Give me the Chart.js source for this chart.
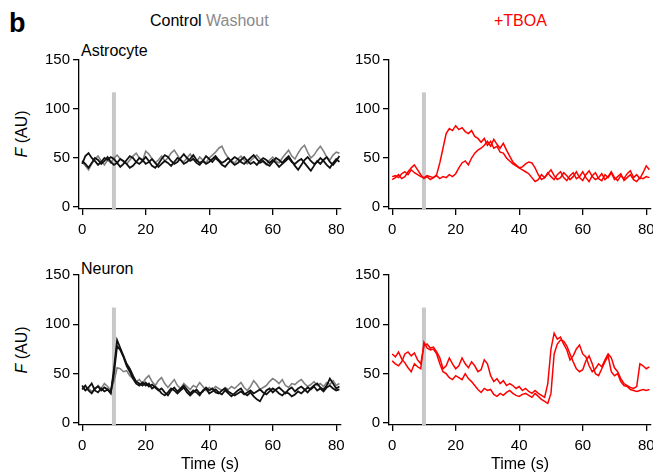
<!DOCTYPE html>
<html>
<head>
<meta charset="utf-8">
<script src="https://cdn.jsdelivr.net/npm/chart.js@4"></script>
<style>
  body { margin: 0; background: #fff; width: 653px; height: 474px; overflow: hidden; position: relative;
         font-family: "Liberation Sans", Arial, sans-serif; }
  canvas { position: absolute; }
  .lbl { position: absolute; font-size: 16px; white-space: nowrap; line-height: 1; }
  .ytitle { position: absolute; font-size: 16px; white-space: nowrap; transform: translate(-50%, -50%) rotate(-90deg); }
</style>
</head>
<body>
<div class="lbl" style="left:9px; top:10px; font-size:27px; font-weight:bold;">b</div>
<div class="lbl" style="left:150px; top:13px;"><span style="color:#000">Control</span> <span style="color:#8a8a8a">Washout</span></div>
<div class="lbl" style="left:494px; top:13px; color:#ff0000;">+TBOA</div>
<div class="lbl" style="left:81px; top:43px;">Astrocyte</div>
<div class="lbl" style="left:81px; top:261px;">Neuron</div>
<div class="ytitle" style="left:22px; top:134px;"><i>F</i> (AU)</div>
<div class="ytitle" style="left:22px; top:350px;"><i>F</i> (AU)</div>

<canvas id="astroCtrl" width="360" height="200" style="left:0px; top:45px;"></canvas>
<canvas id="astroTboa" width="360" height="200" style="left:310px; top:45px;"></canvas>
<canvas id="neuronCtrl" width="360" height="214" style="left:0px; top:260px;"></canvas>
<canvas id="neuronTboa" width="360" height="214" style="left:310px; top:260px;"></canvas>

<script>
// time axis (s), one sample per second
const times = Array.from({ length: 82 }, (_, i) => i);
const xTicks = [0, 20, 40, 60, 80];
const yTicks = [0, 50, 100, 150];
const stimTime = 10;
const stimTop = 117;

// Astrocyte, control (black) and washout (grey)
const astroControl1 = [44,52,55,50,47,43,46,50,48,51,49,45,41,44,48,52,50,46,44,47,51,47,42,40,44,49,53,51,47,44,46,50,54,50,47,49,45,43,47,52,49,46,50,47,43,41,45,48,51,49,46,44,47,50,53,49,45,47,44,42,46,50,48,45,49,52,47,42,38,43,48,51,47,44,46,50,47,43,40,45,49,46];
const astroControl2 = [47,44,40,45,50,48,44,47,51,46,43,45,49,47,44,40,42,46,50,48,44,46,49,45,41,44,47,45,42,46,50,48,44,46,49,53,48,45,47,44,46,49,52,48,45,47,50,46,43,45,48,51,47,44,46,43,47,50,48,45,48,45,41,44,47,50,46,44,47,49,45,41,37,42,47,44,48,51,46,43,47,52];
const astroWashout = [46,42,38,44,49,52,47,43,48,45,50,53,49,46,44,48,52,55,50,47,57,54,49,45,48,52,47,50,55,58,53,48,46,50,54,49,46,51,48,45,50,53,56,60,62,55,50,47,45,49,52,48,44,47,50,53,49,46,43,48,51,47,45,50,54,58,52,49,55,60,63,56,50,53,58,62,57,51,48,53,56,55];

// Astrocyte, +TBOA
const astroTboa1 = [31,32,30,34,36,33,38,35,33,31,30,32,31,30,33,45,60,75,80,78,83,79,81,77,75,78,72,70,66,70,63,67,60,62,56,55,50,47,44,42,40,38,36,34,30,26,28,33,30,35,31,28,33,36,30,27,32,35,29,31,36,30,26,32,35,29,27,33,30,35,28,31,34,27,30,33,28,26,30,29,31,30];
const astroTboa2 = [28,30,33,29,31,36,40,43,38,33,29,31,28,30,32,29,31,30,33,31,34,40,45,47,43,50,55,58,60,63,67,62,69,64,60,65,58,52,46,43,40,41,44,46,45,40,33,28,30,34,38,32,28,30,35,32,28,31,36,30,27,33,37,31,28,30,34,28,31,36,30,27,32,29,34,37,30,33,29,35,42,38];

// Neuron, control (black) and washout (grey)
const neuronControl1 = [34,38,33,30,35,37,33,36,34,30,55,84,76,68,60,55,48,42,40,38,41,37,39,36,33,35,31,28,33,36,32,35,38,34,30,33,31,28,33,35,30,32,34,31,29,33,30,27,30,33,35,30,28,31,27,24,22,28,33,35,31,34,36,33,30,34,36,32,35,37,34,31,35,38,40,36,34,38,45,40,35,37];
const neuronControl2 = [38,33,36,40,33,31,35,32,34,31,50,78,74,67,58,52,45,40,38,41,38,40,35,37,34,30,28,31,35,33,30,33,36,31,28,31,34,30,32,36,33,35,31,30,33,35,32,30,28,30,32,29,31,33,30,32,34,31,29,32,35,33,30,28,31,30,27,29,32,30,33,36,34,37,33,35,32,36,38,35,33,34];
const neuronWashout = [36,33,35,32,34,38,35,40,37,33,42,56,55,52,53,48,45,42,44,40,45,48,42,38,43,46,40,36,40,44,38,35,40,37,34,38,36,41,37,33,36,34,37,35,33,36,34,37,35,38,41,36,33,37,43,39,34,36,38,42,45,43,40,44,38,36,40,39,42,44,40,37,39,42,38,40,37,41,39,43,38,40];

// Neuron, +TBOA
const neuronTboa1 = [63,60,58,62,70,72,68,71,64,60,78,80,76,77,72,66,55,58,66,60,55,58,66,60,56,62,58,52,54,64,60,48,42,45,40,43,38,40,38,35,37,33,35,32,30,33,30,28,26,40,75,91,85,87,80,74,64,68,75,79,70,67,58,52,55,60,57,64,70,66,56,52,45,40,38,36,35,37,60,58,55,57];
const neuronTboa2 = [70,67,72,65,61,56,52,60,57,55,82,76,74,75,70,60,52,50,46,44,48,46,44,50,45,42,38,34,31,35,33,34,29,27,30,28,31,33,30,28,27,29,30,28,26,30,27,24,22,20,30,70,80,84,83,78,70,62,55,52,54,63,68,60,50,48,55,62,68,52,48,50,42,38,37,34,33,32,33,34,33,34];

Chart.defaults.font.family = "'Liberation Sans', Arial, sans-serif";
Chart.defaults.font.size = 15;
Chart.defaults.color = '#000';

function pts(arr) {
    return times.map((t, i) => ({ x: t, y: arr[i] }));
}

function trace(arr, color, width) {
    return { data: pts(arr), borderColor: color, borderWidth: width, pointRadius: 0, tension: 0, fill: false };
}

function stimBar() {
    return {
        data: [{ x: stimTime, y: -2 }, { x: stimTime, y: stimTop }],
        borderColor: '#c8c8c8', borderWidth: 4, pointRadius: 0, borderCapStyle: 'butt'
    };
}

function makePanel(id, datasets, bottomAxis, showTitle) {
    const ctx = document.getElementById(id).getContext('2d');
    return new Chart(ctx, {
        type: 'line',
        data: { datasets: datasets.concat([stimBar()]) },
        options: {
            responsive: false,
            animation: false,
            events: [],
            layout: { padding: { top: 15, right: 19, bottom: 0, left: 0 } },
            plugins: { legend: { display: false }, tooltip: { enabled: false } },
            scales: {
                x: {
                    type: 'linear', min: -1, max: 81.5,
                    afterBuildTicks: s => { s.ticks = xTicks.map(v => ({ value: v })); },
                    afterFit: s => { s.height = bottomAxis; },
                    border: { color: '#000', width: 1.3 },
                    grid: { drawOnChartArea: false, tickLength: 6, color: '#000', lineWidth: 1.3 },
                    ticks: { padding: 6, maxRotation: 0, autoSkip: false },
                    title: { display: showTitle, text: 'Time (s)', font: { size: 16 }, padding: { top: 0, bottom: 0 } }
                },
                y: {
                    min: -2, max: 150,
                    afterBuildTicks: s => { s.ticks = yTicks.map(v => ({ value: v })); },
                    afterFit: s => { s.width = 79; },
                    border: { color: '#000', width: 1.3 },
                    grid: { drawOnChartArea: false, tickLength: 6, color: '#000', lineWidth: 1.3 },
                    ticks: { padding: 3 }
                }
            }
        }
    });
}

makePanel('astroCtrl', [
    trace(astroControl1, '#111', 1.8),
    trace(astroControl2, '#111', 1.8),
    trace(astroWashout, '#808080', 1.6)
], 36, false);

makePanel('astroTboa', [
    trace(astroTboa1, '#ff0000', 1.5),
    trace(astroTboa2, '#ff0000', 1.5)
], 36, false);

makePanel('neuronCtrl', [
    trace(neuronControl1, '#111', 1.8),
    trace(neuronControl2, '#111', 1.8),
    trace(neuronWashout, '#808080', 1.6)
], 49, true);

makePanel('neuronTboa', [
    trace(neuronTboa1, '#ff0000', 1.5),
    trace(neuronTboa2, '#ff0000', 1.5)
], 49, true);
</script>
</body>
</html>
